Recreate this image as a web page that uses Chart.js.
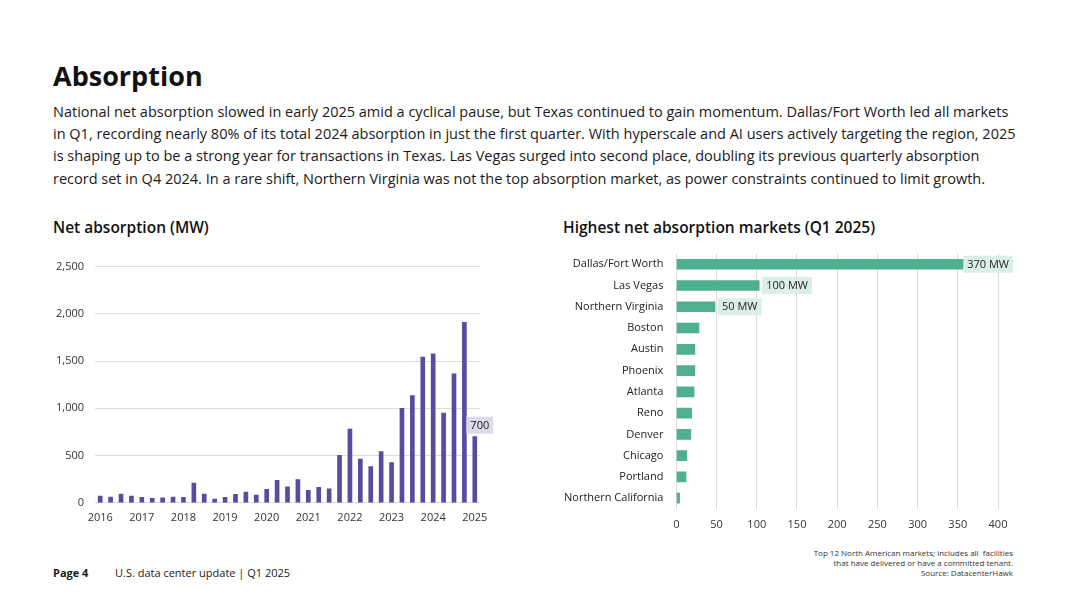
<!DOCTYPE html>
<html>
<head>
<meta charset="utf-8">
<script src="https://cdn.jsdelivr.net/npm/chart.js@4.4.1/dist/chart.umd.min.js"></script>
<style>
  body { margin: 0; width: 1067px; height: 600px; background: #fff; font-family: 'Open Sans', sans-serif; color: #1a1a1a; position: relative; overflow: hidden; }
  .abs { position: absolute; }
  h1 { position: absolute; left: 53px; top: 56px; margin: 0; font-size: 27px; font-weight: 700; line-height: 40px; color: #111; }
  .lead { left: 53px; top: 101px; font-size: 14.5px; line-height: 22.2px; white-space: nowrap; }
  .sub { top: 216px; font-size: 15.5px; font-weight: 600; color: #111; }
  .foot { top: 565px; font-size: 11px; }
  .note { right: 54px; top: 548px; font-size: 8px; line-height: 10px; text-align: right; color: #333; }
</style>
</head>
<body>
<h1>Absorption</h1>
<div class="abs lead">National net absorption slowed in early 2025 amid a cyclical pause, but Texas continued to gain momentum. Dallas/Fort Worth led all markets<br>in Q1, recording nearly 80% of its total 2024 absorption in just the first quarter. With hyperscale and AI users actively targeting the region, 2025<br>is shaping up to be a strong year for transactions in Texas. Las Vegas surged into second place, doubling its previous quarterly absorption<br>record set in Q4 2024. In a rare shift, Northern Virginia was not the top absorption market, as power constraints continued to limit growth.</div>
<div class="abs sub" style="left:53px">Net absorption (MW)</div>
<div class="abs sub" style="left:563px">Highest net absorption markets (Q1 2025)</div>

<div class="abs" style="left:45px; top:249px; width:470px; height:283px;"><canvas id="netChart"></canvas></div>
<div class="abs" style="left:551px; top:234px; width:466px; height:306px;"><canvas id="marketChart"></canvas></div>

<div class="abs foot" style="left:53px; font-weight:700;">Page 4</div>
<div class="abs foot" style="left:115px;">U.S. data center update | Q1 2025</div>
<div class="abs note">Top 12 North American markets; includes all&nbsp; facilities<br>that have delivered or have a committed tenant.<br>Source: DatacenterHawk</div>

<script>
// Net absorption by quarter, MW (2016 Q1 - 2025 Q1)
const years = ['2016', '2017', '2018', '2019', '2020', '2021', '2022', '2023', '2024', '2025'];
const quarters = ['Q1', 'Q2', 'Q3', 'Q4'];
const netAbsorption = [
  71, 60, 92, 71,
  57, 46, 53, 60,
  57, 209, 92, 39,
  57, 89, 113, 82,
  142, 238, 170, 245,
  131, 163, 149, 503,
  780, 464, 383, 542,
  425, 1000, 1135, 1543,
  1578, 950, 1365, 1910,
  700
];
const netTicks = [0, 500, 1000, 1500, 2000, 2500];

// Highest net absorption markets, Q1 2025 (MW)
const markets = ['Dallas/Fort Worth', 'Las Vegas', 'Northern Virginia', 'Boston', 'Austin', 'Phoenix',
  'Atlanta', 'Reno', 'Denver', 'Chicago', 'Portland', 'Northern California'];
const marketMW = [370, 103, 48, 28, 23, 23, 22, 19, 18, 13, 12, 4];
const marketCallouts = ['370 MW', '100 MW', '50 MW'];
const marketTicks = [0, 50, 100, 150, 200, 250, 300, 350, 400];

const quarterLabels = [];
years.forEach(y => quarters.forEach(q => quarterLabels.push(y + ' ' + q)));
quarterLabels.length = netAbsorption.length;

const tickFont = { family: "'Open Sans', sans-serif", size: 11 };
const gridColor = '#dcdcdc';

// draws little value boxes next to chosen bars
const calloutPlugin = {
  id: 'callouts',
  afterDatasetsDraw(chart, args, opts) {
    const ctx = chart.ctx;
    const bars = chart.getDatasetMeta(0).data;
    ctx.save();
    ctx.font = "11px 'Open Sans', sans-serif";
    ctx.textBaseline = 'middle';
    opts.items.forEach(item => {
      const bar = bars[item.index];
      const w = ctx.measureText(item.text).width + 8;
      const h = 17;
      let x, y;
      if (opts.horizontal) {
        x = Math.min(bar.x + 3, chart.width - 4 - w);
        y = bar.y - h / 2;
      } else {
        x = bar.x + 5 - w / 2;
        y = bar.y - 3 - h;
      }
      ctx.fillStyle = opts.bg;
      ctx.fillRect(x, y, w, h);
      ctx.fillStyle = '#222';
      ctx.textAlign = 'center';
      ctx.fillText(item.text, x + w / 2, y + h / 2 + 0.5);
    });
    ctx.restore();
  }
};

new Chart(document.getElementById('netChart'), {
  type: 'bar',
  data: {
    labels: quarterLabels,
    datasets: [{
      data: netAbsorption,
      backgroundColor: '#5a4b9e',
      barThickness: 4
    }]
  },
  plugins: [calloutPlugin],
  options: {
    responsive: true,
    maintainAspectRatio: false,
    animation: false,
    layout: { padding: { top: 5, right: 35, left: 0, bottom: 0 } },
    plugins: {
      legend: { display: false },
      tooltip: { enabled: false },
      callouts: { bg: '#dcdaec', items: [{ index: netAbsorption.length - 1, text: '700' }] }
    },
    scales: {
      x: {
        grid: { display: false, drawTicks: false },
        border: { display: false },
        ticks: {
          color: '#333',
          font: tickFont,
          maxRotation: 0,
          autoSkip: false,
          padding: 8,
          callback: function(value, i) {
            const l = quarterLabels[i];
            return l.endsWith('Q1') ? l.slice(0, 4) : '';
          }
        }
      },
      y: {
        min: 0,
        max: netTicks[netTicks.length - 1],
        afterBuildTicks: axis => { axis.ticks = netTicks.map(v => ({ value: v })); },
        grid: { color: gridColor, drawTicks: false },
        border: { display: false },
        ticks: {
          color: '#333',
          font: tickFont,
          padding: 11,
          callback: v => v.toLocaleString('en-US')
        }
      }
    }
  }
});

new Chart(document.getElementById('marketChart'), {
  type: 'bar',
  data: {
    labels: markets,
    datasets: [{
      data: marketMW,
      backgroundColor: '#4fb08e',
      barThickness: 10
    }]
  },
  plugins: [calloutPlugin],
  options: {
    indexAxis: 'y',
    responsive: true,
    maintainAspectRatio: false,
    animation: false,
    layout: { padding: { top: 6, right: 19, left: 0, bottom: 0 } },
    plugins: {
      legend: { display: false },
      tooltip: { enabled: false },
      callouts: {
        bg: '#dcefe7',
        horizontal: true,
        items: marketCallouts.map((t, i) => ({ index: i, text: t }))
      }
    },
    scales: {
      x: {
        min: 0,
        max: marketTicks[marketTicks.length - 1],
        afterBuildTicks: axis => { axis.ticks = marketTicks.map(v => ({ value: v })); },
        grid: { color: gridColor, drawTicks: false },
        border: { display: false },
        ticks: { color: '#333', font: tickFont, padding: 9 }
      },
      y: {
        grid: { display: false, drawTicks: false },
        border: { display: false },
        ticks: { color: '#222', font: tickFont, padding: 13, autoSkip: false }
      }
    }
  }
});
</script>
</body>
</html>
